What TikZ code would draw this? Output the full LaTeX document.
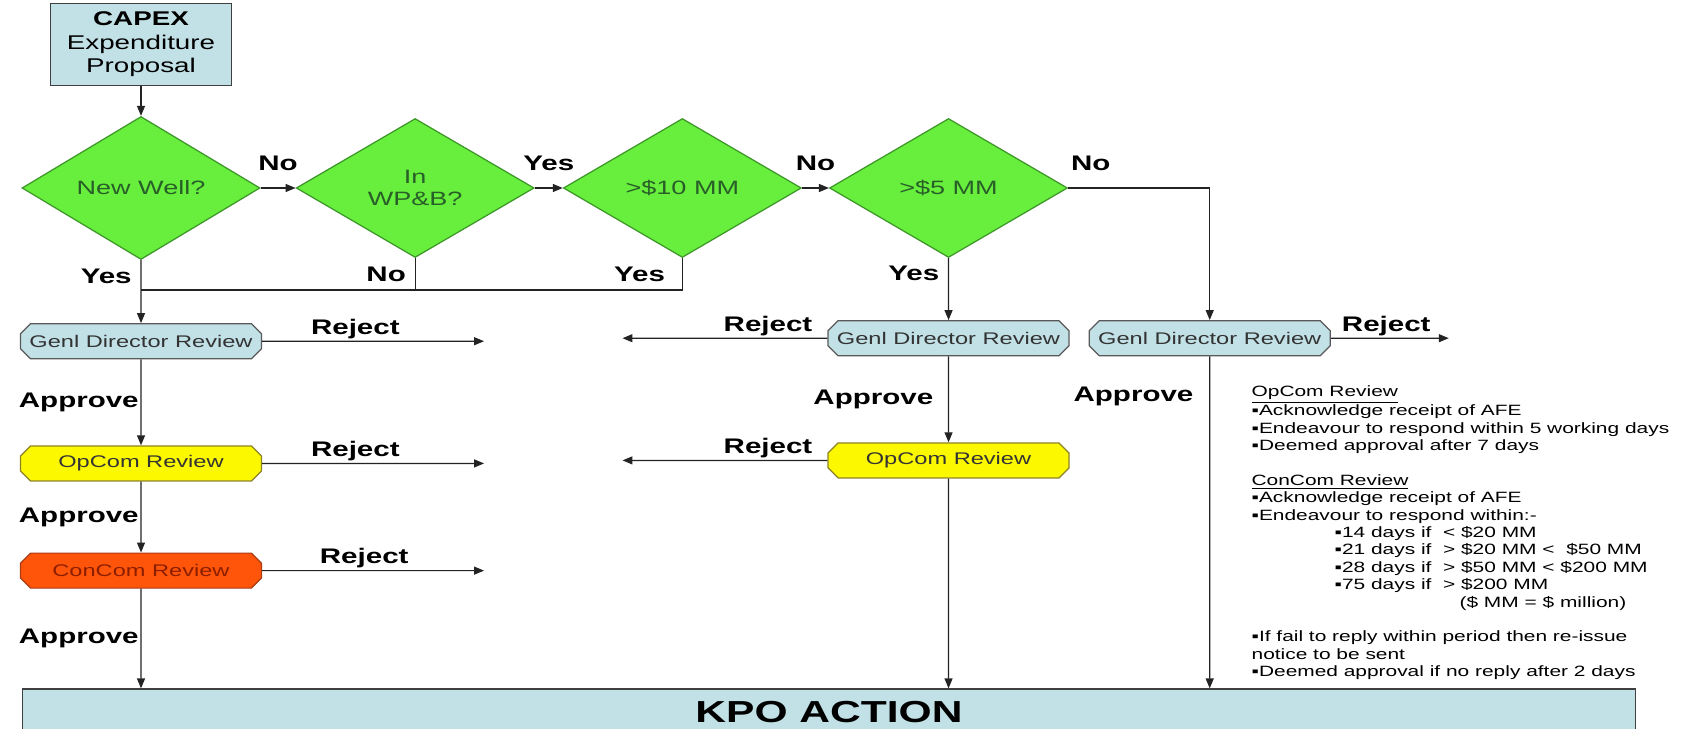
\documentclass[tikz,border=0pt]{standalone}
\usepackage{fontspec}
\setmainfont{Liberation Sans}[FakeStretch=1.4]
\usetikzlibrary{arrows.meta, positioning, shapes.geometric, shapes.misc}

\definecolor{boxblue}{RGB}{194,225,231}
\definecolor{wellgreen}{RGB}{104,238,60}
\definecolor{wellline}{RGB}{60,150,40}
\definecolor{welltext}{RGB}{40,95,40}
\definecolor{opyellow}{RGB}{252,248,0}
\definecolor{opline}{RGB}{140,130,40}
\definecolor{conorange}{RGB}{255,85,10}
\definecolor{conline}{RGB}{170,60,20}
\definecolor{context}{RGB}{140,30,0}
\definecolor{flowline}{RGB}{35,35,35}

\begin{document}
\begin{tikzpicture}[
        x=0.02cm, y=-0.02cm,
        line width=0.7pt,
        >={Triangle[length=0.2cm, width=0.16cm]},
        decision/.style={diamond, draw=wellline, fill=wellgreen, text=welltext, minimum width=4.76cm, minimum height=2.78cm, inner sep=0pt, align=center, font=\fontsize{11}{13}\selectfont},
        review/.style={chamfered rectangle, chamfered rectangle sep=0.1cm, minimum width=4.82cm, minimum height=0.7cm, inner xsep=0pt, inner ysep=0pt, font=\fontsize{9.6}{11}\selectfont},
        genl/.style={review, fill=boxblue, draw=black!65, text=black!80},
        opcom/.style={review, fill=opyellow, draw=opline, text=black!80},
        concom/.style={review, fill=conorange, draw=conline, text=context},
        lbl/.style={inner sep=1pt, font=\bfseries\fontsize{12}{14}\selectfont},
        flow/.style={->, draw=flowline}
    ]
        \useasboundingbox (0,0) rectangle (1697,729);

        \node[decision] (well) at (141,188) {New Well?};
        \node[decision, right=0.7cm of well] (wpb) {In\\WP\&B?};
        \node[decision, right=0.56cm of wpb] (ten) {>\$10 MM};
        \node[decision, right=0.54cm of ten] (five) {>\$5 MM};

        \node[rectangle, draw=black!75, fill=boxblue, minimum width=3.62cm, minimum height=1.64cm, align=center, above=0.6cm of well, font=\fontsize{11.3}{13.3}\selectfont] (capex) {\textbf{CAPEX}\\Expenditure\\Proposal};

        \node[genl, below=1.26cm of well] (gd1) {Genl Director Review};
        \node[opcom, below=1.72cm of gd1] (op1) {OpCom Review};
        \node[concom, below=1.42cm of op1] (cc) {ConCom Review};
        \node[genl, below=1.24cm of five] (gd2) {Genl Director Review};
        \node[opcom, below=1.72cm of gd2] (op2) {OpCom Review};
        \node[genl, right=0.38cm of gd2] (gd3) {Genl Director Review};

        \node[rectangle, draw=black!75, fill=boxblue, minimum width=32.28cm, minimum height=0.92cm, font=\bfseries\fontsize{17.3}{20}\selectfont] (kpo) at (829,712) {KPO ACTION};

        \node[anchor=north west, inner sep=0pt, align=left, font=\fontsize{8.5}{9.9}\selectfont] (notes) at (1251,385) {\underline{OpCom Review}\\
            ▪Acknowledge receipt of AFE\\
            ▪Endeavour to respond within 5 working days\\
            ▪Deemed approval after 7 days\\[0.35cm]
            \underline{ConCom Review}\\
            ▪Acknowledge receipt of AFE\\
            ▪Endeavour to respond within:-\\
            \hspace*{1.66cm}▪14 days if \ < \$20 MM\\
            \hspace*{1.66cm}▪21 days if \ > \$20 MM < \ \$50 MM\\
            \hspace*{1.66cm}▪28 days if \ > \$50 MM < \$200 MM\\
            \hspace*{1.66cm}▪75 days if \ > \$200 MM\\
            \hspace*{4.16cm}(\$ MM = \$ million)\\[0.35cm]
            ▪If fail to reply within period then re-issue\\
            notice to be sent\\
            ▪Deemed approval if no reply after 2 days};

        \coordinate[below=0.6cm of well.south] (join);
        \coordinate[right=4.44cm of gd1.east] (rj1);
        \coordinate[right=4.44cm of op1.east] (rj2);
        \coordinate[right=4.44cm of cc.east] (rj3);
        \coordinate[left=4.1cm of gd2.west] (rj4);
        \coordinate[left=4.1cm of op2.west] (rj5);
        \coordinate[right=2.36cm of gd3.east] (rj6);

        \draw[flow] (capex) -- (well);
        \draw[flow] (well) -- node[lbl, above=0.3cm]{No} (wpb);
        \draw[flow] (wpb) -- node[lbl, above=0.3cm]{Yes} (ten);
        \draw[flow] (ten) -- node[lbl, above=0.3cm]{No} (five);
        \draw[flow] (five) -| node[lbl, pos=0.08, above=0.3cm]{No} (gd3);

        \draw[flow] (well) -- node[lbl, pos=0.25, left=0.14cm]{Yes} (gd1);
        \draw[draw=flowline] (wpb.south) -- node[lbl, left=0.14cm]{No} (wpb.south |- join);
        \draw[draw=flowline] (ten.south) -- node[lbl, left=0.3cm]{Yes} (ten.south |- join) -- (join);
        \draw[flow] (five) -- node[lbl, pos=0.25, left=0.14cm]{Yes} (gd2);

        \draw[flow] (gd1) -- node[lbl, pos=0.42, above]{Reject} (rj1);
        \draw[flow] (op1) -- node[lbl, pos=0.42, above]{Reject} (rj2);
        \draw[flow] (cc) -- node[lbl, pos=0.46, above]{Reject} (rj3);
        \draw[flow] (gd2) -- node[lbl, pos=0.29, above]{Reject} (rj4);
        \draw[flow] (op2) -- node[lbl, pos=0.29, above]{Reject} (rj5);
        \draw[flow] (gd3) -- node[lbl, pos=0.47, above]{Reject} (rj6);

        \draw[flow] (gd1) -- node[lbl, left]{Approve} (op1);
        \draw[flow] (op1) -- node[lbl, left]{Approve} (cc);
        \draw[flow] (cc) -- node[lbl, left]{Approve} (cc |- kpo.north);
        \draw[flow] (gd2) -- node[lbl, left=0.26cm]{Approve} (op2);
        \draw[flow] (op2) -- (op2 |- kpo.north);
        \draw[flow] (gd3) -- node[lbl, pos=0.12, left=0.28cm]{Approve} (gd3 |- kpo.north);

    \end{tikzpicture}
\end{document}
